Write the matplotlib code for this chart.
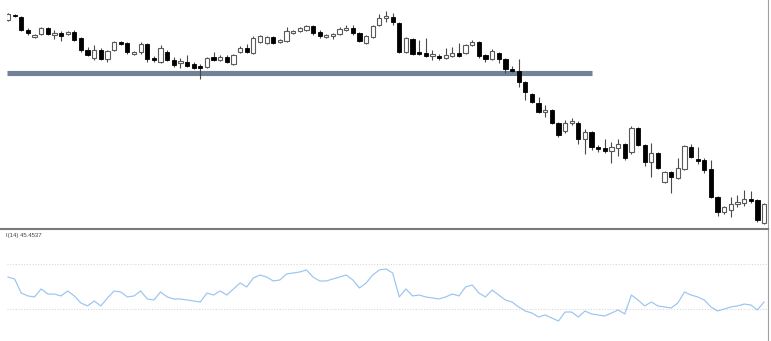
import matplotlib
matplotlib.use("Agg")
import matplotlib.pyplot as plt

# ---- data (price units are arbitrary) ----
opens = [220, 225, 223, 210, 203, 206, 212, 205, 207, 206, 208, 202, 190, 182, 190, 181, 190, 198, 197, 186,
         188, 196, 182, 178, 188, 180, 177, 178, 176, 174, 173, 183, 180, 183, 176, 188, 192, 187, 198, 197,
         203, 198, 199, 207, 209, 210, 214, 208, 203, 204, 206, 210, 212, 207, 197, 203, 215, 222, 223, 217,
         188, 201, 188, 187, 184, 184, 182, 184, 187, 187, 195, 198, 185, 181, 187, 181, 171, 169, 158, 146,
         137, 128, 130, 117, 109, 117, 117, 101, 108, 93, 92, 89, 92, 96, 88, 112, 95, 78, 87, 58,
         68, 62, 71, 93, 81, 80, 71, 43, 28, 30, 36, 37, 41, 40, 17]
highs = [227, 226, 224, 212, 206, 213, 213, 210, 209, 209, 210, 203, 193, 195, 192, 190, 199, 199, 198, 189,
         198, 197, 184, 195, 190, 183, 182, 185, 178, 176, 183, 188, 185, 185, 186, 194, 196, 204, 205, 204,
         204, 201, 213, 210, 213, 215, 215, 210, 206, 207, 213, 215, 215, 208, 205, 215, 226, 229, 227, 218,
         203, 202, 200, 202, 190, 186, 192, 193, 197, 196, 200, 199, 186, 191, 188, 182, 174, 181, 159, 147,
         143, 135, 131, 118, 120, 122, 119, 111, 109, 95, 101, 98, 101, 97, 114, 113, 96, 97, 88, 69,
         69, 82, 95, 96, 93, 82, 80, 44, 34, 43, 45, 50, 49, 41, 37]
lows = [219, 223, 209, 205, 202, 205, 205, 201, 199, 205, 199, 188, 184, 180, 180, 178, 189, 195, 186, 185,
        186, 178, 178, 177, 179, 173, 172, 173, 171, 161, 172, 179, 179, 177, 175, 187, 187, 186, 197, 196,
        196, 197, 198, 206, 208, 209, 205, 202, 202, 201, 205, 209, 205, 198, 196, 202, 214, 218, 215, 187,
        187, 185, 185, 183, 180, 180, 181, 183, 183, 186, 194, 182, 178, 180, 177, 167, 168, 153, 140, 137,
        127, 123, 116, 103, 107, 115, 96, 86, 90, 88, 87, 77, 84, 80, 86, 94, 74, 63, 71, 57,
        47, 61, 70, 82, 76, 67, 42, 24, 26, 23, 33, 34, 37, 18, 16]
closes = [226, 224, 210, 207, 205, 212, 206, 207, 204, 208, 200, 190, 185, 190, 181, 189, 198, 196, 188, 188,
          196, 181, 180, 192, 180, 175, 179, 174, 172, 172, 182, 180, 183, 178, 185, 192, 188, 202, 204, 203,
          197, 200, 209, 209, 212, 214, 207, 204, 205, 206, 211, 212, 207, 199, 204, 214, 222, 224, 218, 188,
          202, 186, 186, 184, 186, 182, 185, 187, 184, 195, 198, 184, 181, 189, 181, 171, 169, 158, 148, 138,
          128, 130, 117, 105, 117, 119, 101, 108, 93, 91, 89, 93, 96, 82, 112, 95, 78, 87, 72, 68,
          63, 72, 94, 83, 79, 70, 43, 28, 33, 36, 38, 41, 39, 20, 36]

rsi = [58.4, 56.7, 44.2, 41.6, 40.7, 47.8, 43.3, 43.3, 41.6, 46.0, 41.6, 35.3, 32.7, 37.1, 32.7, 39.8, 46.0, 45.1,
       40.7, 41.6, 46.0, 38.9, 38.0, 45.1, 40.7, 38.9, 38.9, 38.0, 37.1, 36.2,
       44.2, 42.4, 46.0, 42.4, 47.8, 53.1, 49.6, 57.6, 60.2, 58.4, 54.9, 55.8, 61.1, 62.0, 62.9, 64.7, 58.4, 54.9,
       54.9, 56.7, 58.4, 60.2, 55.8, 48.7, 53.1, 60.2, 64.7, 65.6, 62.0,
       40.7,
       47.8, 41.6, 42.4, 40.7, 39.8, 38.9, 40.7, 43.3, 41.6, 49.6, 51.3, 44.2, 40.7, 46.9, 42.4, 38.0, 36.2, 31.8,
       28.2, 26.4, 22.9, 24.7, 22.0, 19.3, 27.3, 27.3, 22.9, 28.2, 25.6, 24.7,
       23.8, 26.4, 29.1, 25.6, 42.4, 38.0, 32.7, 36.2, 32.7, 31.8, 30.9, 35.3, 45.1, 42.4, 40.7, 38.0, 31.8, 28.2,
       30.0, 31.8, 32.7, 34.4, 33.6, 29.1, 36.2]

rsi_levels = [70, 30]
level_price = 167.5
level_start = -0.15
level_end = 88.1
rsi_label = "I(14) 45.4537"

# ---- figure ----
W, H = 771, 341
fig = plt.figure(figsize=(W / 100, H / 100), dpi=100)

L = 7
ax = fig.add_axes([L / W, (H - 229) / H, (768 - L) / W, 229 / H])
ax2 = fig.add_axes([L / W, 0, (768 - L) / W, 111 / H])
XL = (-0.15, 114.6)

n = len(opens)
xs = list(range(n))

# support/resistance line
ax.plot([level_start, level_end], [level_price, level_price], color="#718196",
        lw=3.7, solid_capstyle="butt", zorder=1)

# wicks
ax.vlines(xs, lows, highs, color="#4a4a4a", lw=0.8, zorder=2)
# bodies
for i in xs:
    o, c = opens[i], closes[i]
    bottom = min(o, c)
    height = max(abs(c - o), 0.8)
    if c >= o:
        ax.bar(i, height, bottom=bottom, width=0.64, facecolor="white",
               edgecolor="#5a5a5a", lw=0.8, zorder=3)
    else:
        ax.bar(i, height, bottom=bottom, width=0.64, facecolor="black",
               edgecolor="black", lw=0.6, zorder=3)

ax.set_xlim(*XL)
ax.set_ylim(11, 240)
ax.set_xticks([])
ax.set_yticks([])
for s in ["top", "left", "bottom"]:
    ax.spines[s].set_visible(False)
ax.spines["right"].set_color("#a0a0a0")
ax.spines["right"].set_linewidth(0.8)

# separator across full width
fig.add_artist(plt.Line2D([0, 768 / W], [1 - 228.7 / H, 1 - 228.7 / H],
                          color="#7a7a7a", lw=1.5, transform=fig.transFigure))

# RSI panel
for lv in rsi_levels:
    ax2.axhline(lv, color="#d8d8d8", lw=0.8, ls=(0, (1, 1.5)), zorder=1)
ax2.plot(xs, rsi, color="#9ac4f0", lw=0.85, zorder=2)
ax2.set_xlim(*XL)
ax2.set_ylim(1.55, 100.2)
ax2.set_xticks([])
ax2.set_yticks([])
for s in ["top", "left", "bottom"]:
    ax2.spines[s].set_visible(False)
ax2.spines["right"].set_color("#a0a0a0")
ax2.spines["right"].set_linewidth(0.8)

fig.text(6.5 / W, 1 - 235 / H, rsi_label, fontsize=4.3, color="#444444",
         family="Liberation Sans", va="center", ha="left")

fig.savefig("out.png", dpi=100, facecolor="white")
